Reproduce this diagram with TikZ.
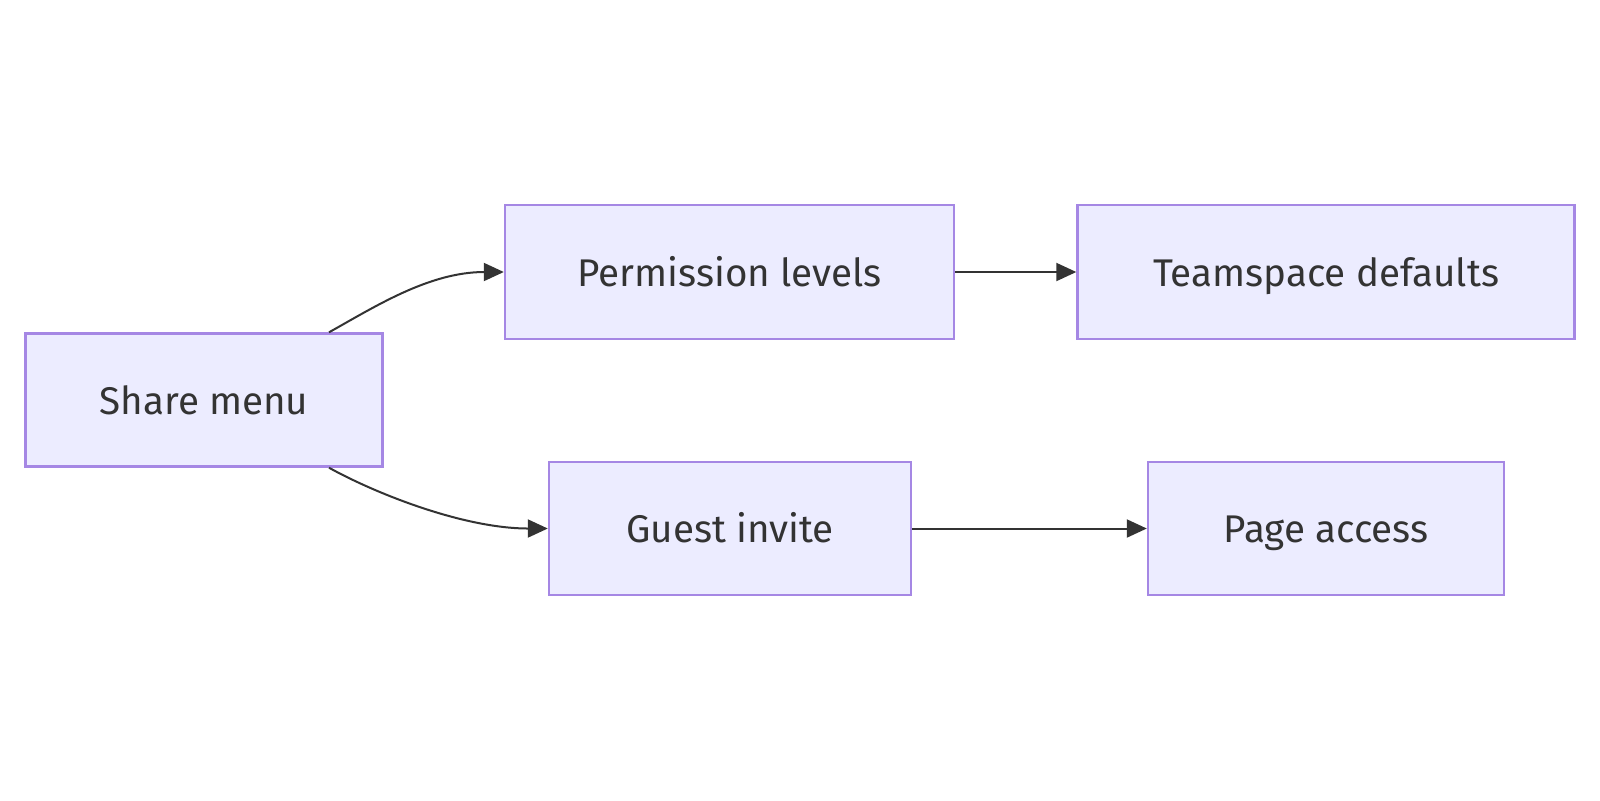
\documentclass[tikz,border=0pt]{standalone}
\usepackage{fontspec}
\setmainfont{Fira Sans}
\usetikzlibrary{arrows.meta,calc}
\definecolor{nodefill}{HTML}{ECECFF}
\definecolor{nodeline}{HTML}{A587E4}
\definecolor{edgecol}{HTML}{333333}
\definecolor{textcol}{HTML}{333333}
\tikzset{
  box/.style={draw=nodeline, fill=nodefill, line width=1.2pt, rectangle, inner sep=0pt,
    font=\fontsize{19.3}{22}\selectfont, text=textcol, text height=18.1pt, text depth=3.9pt},
  edge/.style={draw=edgecol, line width=1pt, -{Triangle[length=10pt,width=9pt]}}
}
\begin{document}
\begin{tikzpicture}[x=0.5pt,y=-0.5pt]
\useasboundingbox (0,0) rectangle (1600,800);
\node[box, minimum width=178.5pt, minimum height=66.5pt] (share) at (204,400) {Share menu};
\node[box, minimum width=224.5pt, minimum height=67pt] (perm) at (729.5,272) {Permission levels};
\node[box, minimum width=248.5pt, minimum height=67pt] (team) at (1326,272) {Teamspace defaults};
\node[box, minimum width=181pt, minimum height=66.5pt] (guest) at (730,528.5) {Guest invite};
\node[box, minimum width=178pt, minimum height=66.5pt] (page) at (1326,528.5) {Page access};
\coordinate (s1) at ([xshift=62.5pt]share.north);
\coordinate (s2) at ([xshift=62.5pt]share.south);
\draw[edge] (s1) .. controls ++(45,-25) and ($(perm.west)+(-75,0)$) .. (perm.west);
\draw[edge] (s2) .. controls ++(45,25) and ($(guest.west)+(-85,0)$) .. (guest.west);
\draw[edge] (perm.east) -- (team.west);
\draw[edge] (guest.east) -- (page.west);
\end{tikzpicture}
\end{document}
